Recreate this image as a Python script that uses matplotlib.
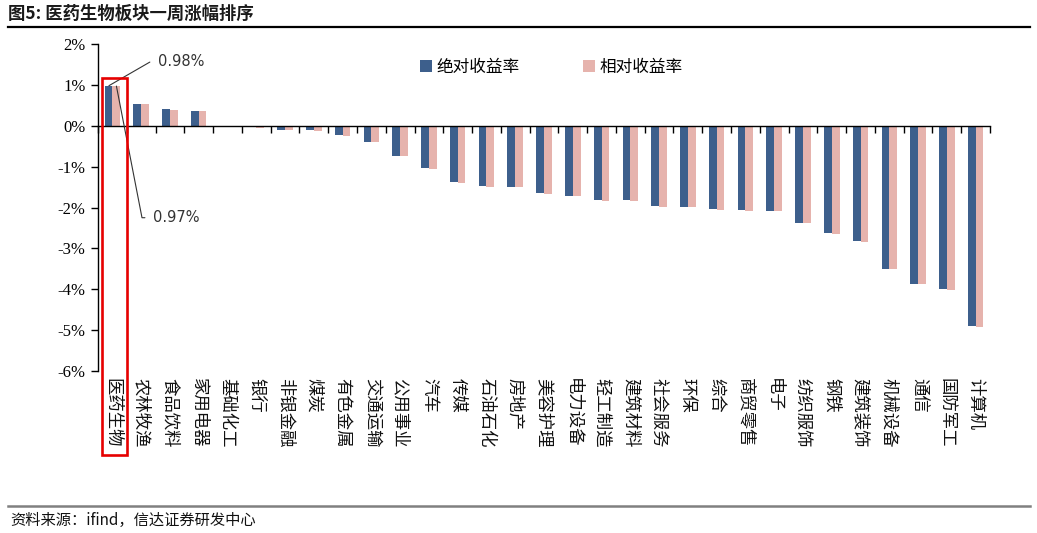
import numpy as np
import matplotlib.pyplot as plt
from matplotlib.patches import Rectangle
from matplotlib.transforms import blended_transform_factory

plt.rcParams['font.family'] = ['Noto Sans CJK SC', 'DejaVu Sans']

c_abs = '#3d5f8c'
c_rel = '#e6b3ad'

sectors = ['医药生物', '农林牧渔', '食品饮料', '家用电器', '基础化工', '银行', '非银金融',
           '煤炭', '有色金属', '交通运输', '公用事业', '汽车', '传媒', '石油石化', '房地产',
           '美容护理', '电力设备', '轻工制造', '建筑材料', '社会服务', '环保', '综合',
           '商贸零售', '电子', '纺织服饰', '钢铁', '建筑装饰', '机械设备', '通信',
           '国防军工', '计算机']

abs_ret = [0.98, 0.54, 0.40, 0.37, -0.01, -0.04, -0.10, -0.10, -0.23, -0.39, -0.74,
           -1.04, -1.38, -1.47, -1.49, -1.64, -1.71, -1.82, -1.82, -1.97, -1.99, -2.04,
           -2.06, -2.08, -2.39, -2.63, -2.83, -3.50, -3.87, -3.99, -4.89]
rel_ret = [0.97, 0.54, 0.39, 0.36, -0.02, -0.06, -0.11, -0.12, -0.26, -0.39, -0.75,
           -1.05, -1.40, -1.49, -1.51, -1.66, -1.71, -1.84, -1.84, -1.99, -1.99, -2.07,
           -2.08, -2.08, -2.39, -2.65, -2.85, -3.51, -3.88, -4.01, -4.92]
yticks = [2, 1, 0, -1, -2, -3, -4, -5, -6]

n = len(sectors)
x = np.arange(n)
w = 0.27

fig = plt.figure(figsize=(10.37, 5.33), dpi=100)
ax = fig.add_axes([98 / 1037, 1 - 371 / 533, 892 / 1037, 327 / 533])

ax.bar(x - w / 2, abs_ret, w, color=c_abs, label='绝对收益率', zorder=2)
ax.bar(x + w / 2, rel_ret, w, color=c_rel, label='相对收益率', zorder=2)

ax.set_xlim(-0.5, n - 0.5)
ax.set_ylim(-6, 2)
ax.set_yticks(yticks)
ax.set_yticklabels([f'{v}%' for v in yticks], family='Liberation Serif', fontsize=12)
ax.tick_params(axis='y', direction='out', length=5, width=1, pad=4)

for s in ['top', 'right']:
    ax.spines[s].set_visible(False)
ax.spines['left'].set_linewidth(1)
ax.spines['bottom'].set_position(('data', 0))
ax.spines['bottom'].set_linewidth(1)
ax.set_xticks(np.arange(n + 1) - 0.5)
ax.tick_params(axis='x', direction='out', length=5, width=1, labelbottom=False)

tr = blended_transform_factory(ax.transData, ax.transAxes)
for i, name in enumerate(sectors):
    ax.text(x[i], -0.022, name, transform=tr, rotation=-90, ha='center', va='top',
            fontsize=12.5, color='#111111')

# highlight box
ax.add_patch(Rectangle((-0.35, -8.06), 0.87, 9.24, fill=False, edgecolor='#e60000',
                       lw=1.9, clip_on=False, zorder=5))

# callouts
ax.annotate(f'{abs_ret[0]:.2f}%', xy=(-0.12, abs_ret[0]), xytext=(1.59, 1.57),
            fontsize=10.5, ha='left', va='center', family='DejaVu Sans', color='#333333',
            arrowprops=dict(arrowstyle='-', color='#333333', lw=0.8, relpos=(0, 0.5),
                            shrinkA=4, shrinkB=0,
                            connectionstyle='angle,angleA=0,angleB=30,rad=0'))
ax.annotate(f'{rel_ret[0]:.2f}%', xy=(0.14, rel_ret[0]), xytext=(1.42, -2.25),
            fontsize=10.5, ha='left', va='center', family='DejaVu Sans', color='#333333',
            arrowprops=dict(arrowstyle='-', color='#333333', lw=0.8, relpos=(0, 0.5),
                            shrinkA=4, shrinkB=0,
                            connectionstyle='angle,angleA=0,angleB=-79,rad=0'))

fig.legend(loc='center left', bbox_to_anchor=(405 / 1037, 1 - 67 / 533), ncol=2,
           frameon=False, fontsize=12, handlelength=0.7, handleheight=0.7,
           handletextpad=0.3, columnspacing=3.8)

# title, rules and source
fig.text(8 / 1037, 1 - 14 / 533, '图5: 医药生物板块一周涨幅排序', fontsize=12.5,
         fontweight='bold', va='center', ha='left', color='#1a1a1a')
fig.add_artist(plt.Line2D([8 / 1037, 1030 / 1037], [1 - 27 / 533] * 2, color='black', lw=1.6))
fig.add_artist(plt.Line2D([8 / 1037, 1030 / 1037], [1 - 506 / 533] * 2, color='#808080', lw=1.8))
fig.text(10 / 1037, 1 - 520 / 533, '资料来源：ifind，信达证券研发中心', fontsize=11,
         style='italic', va='center', ha='left', color='#111111')

fig.savefig('out.png', dpi=100)
